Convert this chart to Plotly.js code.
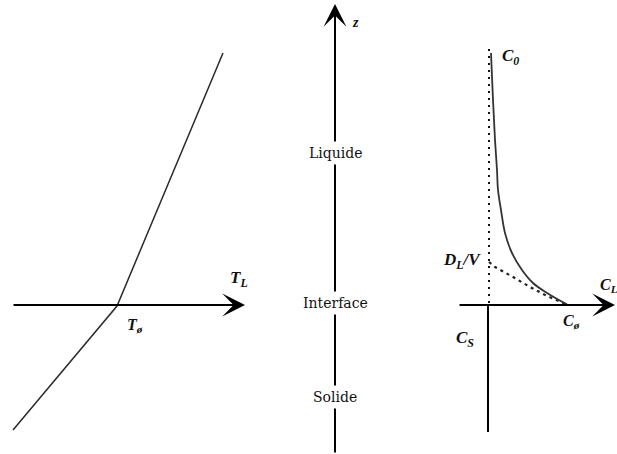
<!DOCTYPE html>
<html>
<head>
<meta charset="utf-8">
<script src="https://cdn.plot.ly/plotly-3.0.1.min.js"></script>
<style>
  html, body { margin: 0; padding: 0; background: #fff; }
  #chart { width: 617px; height: 454px; }
</style>
</head>
<body>
<div id="chart"></div>
<script>
// Diagram units: x to the right, y measured downward from the top of the figure.

// Temperature profile across the solidification front (left panel)
const thermalX = [13, 117, 223];
const thermalY = [430, 306, 53];

// Solute concentration profile in the liquid ahead of the interface (right panel)
const soluteX = [491, 493, 495, 497, 498, 501, 505, 512, 522, 533, 547, 568];
const soluteY = [53, 100, 140, 170, 190, 210, 233, 253, 270, 283, 293, 305];

// Tangent at the interface, meeting the C0 line at the diffusion length D_L/V
const tangentX = [489, 495, 513, 530, 547, 568];
const tangentY = [262, 267, 277, 287, 296, 305];

// Far-field concentration level C0 (dotted) and solid composition axis C_S
const farFieldX = [489, 489];
const farFieldY = [49, 305];
const solidAxisX = [488, 488];
const solidAxisY = [305, 432];

// Axes drawn as arrows: [tailX, tailY, tipX, tipY]
const tempAxis = [12, 305, 245, 305];
const zAxis = [335, 454, 335, 4];
const concAxis = [458, 305, 615, 305];

// Text labels
const labelText = ['<i><b>T<sub>L</sub></b></i>', '<i><b>T<sub>ø</sub></b></i>', '<i><b>z</b></i>',
  '<i><b>C<sub>0</sub></b></i>', '<i><b>D<sub>L</sub>/V</b></i>', '<i><b>C<sub>S</sub></b></i>',
  '<i><b>C<sub>ø</sub></b></i>', '<i><b>C<sub>L</sub></b></i>'];
const labelX = [239, 135, 355, 510, 462, 465, 571, 598];
const labelY = [279, 325, 22, 57, 261, 339, 321, 285];
const labelSize = [17, 16, 14, 17, 17, 17, 16, 16];

const regionText = ['Liquide', 'Interface', 'Solide'];
const regionY = [153, 303, 397];
const regionX = zAxis[0];

const serif = "'Liberation Serif', 'Times New Roman', serif";

const traces = [
  { x: thermalX, y: thermalY, mode: 'lines', line: { color: '#2a2a2a', width: 1.5 } },
  { x: farFieldX, y: farFieldY, mode: 'lines', line: { color: '#111', width: 2, dash: '2px,5px' } },
  { x: tangentX, y: tangentY, mode: 'lines', line: { color: '#222', width: 2.2, dash: '3px,4px' } },
  { x: soluteX, y: soluteY, mode: 'lines', line: { color: '#333', width: 1.8, shape: 'spline' } },
  { x: solidAxisX, y: solidAxisY, mode: 'lines', line: { color: '#000', width: 2 } }
];

function arrow(a) {
  return {
    x: a[2], y: a[3], ax: a[0], ay: a[1], xref: 'x', yref: 'y', axref: 'x', ayref: 'y',
    text: '', showarrow: true, arrowhead: 3, arrowsize: 1.9, arrowwidth: 2,
    arrowcolor: '#000', standoff: 0, startstandoff: 0
  };
}

const annotations = [arrow(tempAxis), arrow(zAxis), arrow(concAxis)];

regionText.forEach((t, i) => {
  annotations.push({
    x: regionX, y: regionY[i], xref: 'x', yref: 'y', text: t, showarrow: false,
    font: { family: "'DejaVu Serif', 'Liberation Serif', serif", size: 14, color: '#111' },
    bgcolor: '#ffffff', borderpad: 3
  });
});

labelText.forEach((t, i) => {
  annotations.push({
    x: labelX[i], y: labelY[i], xref: 'x', yref: 'y', text: t, showarrow: false,
    xanchor: i === labelText.length - 1 ? 'left' : 'center',
    font: { family: serif, size: labelSize[i], color: '#111' }
  });
});

const layout = {
  width: 617, height: 454,
  margin: { l: 0, r: 0, t: 0, b: 0 },
  paper_bgcolor: '#fff', plot_bgcolor: '#fff',
  showlegend: false,
  xaxis: { range: [0, 617], visible: false, fixedrange: true },
  yaxis: { range: [454, 0], visible: false, fixedrange: true },
  annotations: annotations
};

Plotly.newPlot('chart', traces, layout, { staticPlot: true });
</script>
</body>
</html>
